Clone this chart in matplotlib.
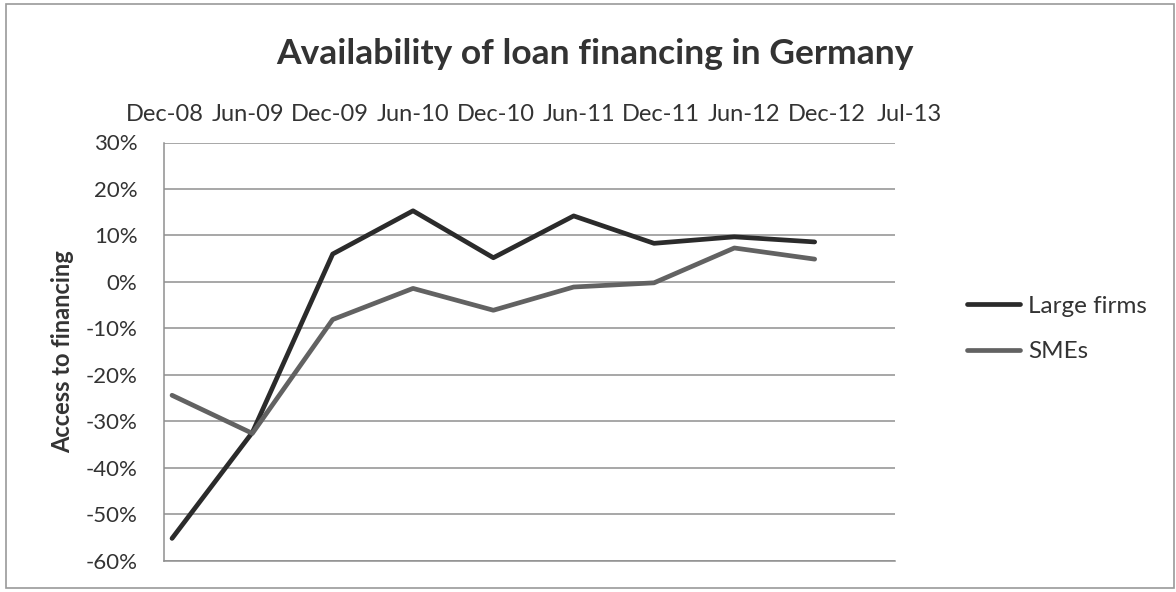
import matplotlib
matplotlib.use("Agg")
import matplotlib.pyplot as plt
import numpy as np
from matplotlib.patches import Rectangle
from matplotlib.ticker import PercentFormatter

plt.rcParams['font.family'] = ['Lato', 'DejaVu Sans']
plt.rcParams['axes.unicode_minus'] = False

# survey waves
periods = ['Dec-08', 'Jun-09', 'Dec-09', 'Jun-10', 'Dec-10',
           'Jun-11', 'Dec-11', 'Jun-12', 'Dec-12', 'Jul-13']

# net share of firms reporting better access to loans (%)
large_firms = [-55.2, -32.4, 6.0, 15.3, 5.2, 14.2, 8.3, 9.7, 8.6]
smes = [-24.4, -32.6, -8.1, -1.4, -6.1, -1.1, -0.2, 7.3, 4.9]

y_ticks = list(range(-60, 31, 10))

text_col = '#333333'
grid_col = '#8f8f8f'

fig = plt.figure(figsize=(11.76, 5.92), dpi=100)
ax = fig.add_axes([164 / 1176, 1 - 560.7 / 592, (895 - 164) / 1176, (560.7 - 142.5) / 592])

x = np.arange(len(large_firms))
ax.plot(x, large_firms, color='#2b2b2b', lw=3.4, solid_capstyle='round',
        solid_joinstyle='round', label='Large firms', zorder=3)
ax.plot(x, smes, color='#626262', lw=3.4, solid_capstyle='round',
        solid_joinstyle='round', label='SMEs', zorder=3)

ax.set_xlim(-0.1, len(periods) - 1)
ax.set_ylim(-60, 30)
ax.set_yticks(y_ticks)
ax.yaxis.set_major_formatter(PercentFormatter(decimals=0))
ax.grid(axis='y', color=grid_col, lw=1.1)
ax.set_axisbelow(True)
ax.set_xticks([])
ax.tick_params(axis='y', length=0, pad=19, labelsize=16, labelcolor=text_col)

for side in ['top', 'right']:
    ax.spines[side].set_visible(False)
ax.spines['left'].set_color(grid_col)
ax.spines['bottom'].set_color(grid_col)
ax.spines['left'].set_linewidth(1.1)
ax.spines['bottom'].set_linewidth(1.1)

# period labels sit above the plot area
label_pos = np.arange(len(periods)) * 1.03 - 0.09
for pos, lab in zip(label_pos, periods):
    ax.text(pos, 1.068, lab, transform=ax.get_xaxis_transform(), ha='center',
            va='center', fontsize=17, color=text_col, clip_on=False)

ax.set_ylabel('Access to financing', fontsize=17, fontweight='bold',
              color=text_col, labelpad=8)

fig.text(595 / 1176, 1 - 54 / 592, 'Availability of loan financing in Germany',
         ha='center', va='center', fontsize=25.5, fontweight='bold', color=text_col)

fig.legend(loc='center left', bbox_to_anchor=(967 / 1176, 1 - 329 / 592),
           bbox_transform=fig.transFigure, frameon=False, fontsize=17.5,
           handlelength=2.2, handletextpad=0.3, labelspacing=1.0,
           borderpad=0, borderaxespad=0, labelcolor=text_col)

# chart frame
fig.patches.append(Rectangle((6 / 1176, 4 / 592), 1168 / 1176, 584 / 592,
                             transform=fig.transFigure, fill=False,
                             edgecolor='#9a9a9a', lw=1.2))

fig.savefig('out.png', dpi=100, facecolor='white')
